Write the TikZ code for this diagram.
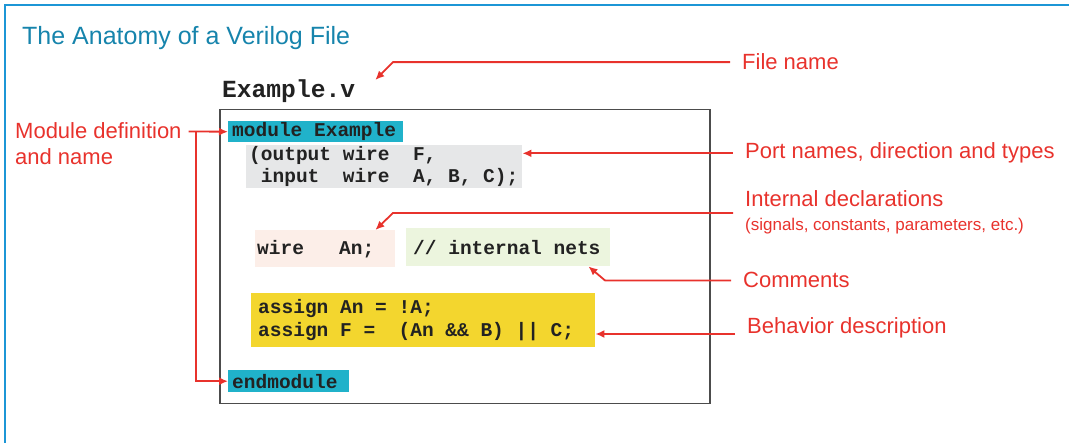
\documentclass[tikz,border=0pt]{standalone}
\usepackage{fontspec}
\setmainfont{Liberation Sans}
\newfontfamily\codefamily{Liberation Mono}
\usepackage{tikz}
\usetikzlibrary{arrows.meta,calc,positioning}
\definecolor{framecol}{RGB}{28,150,214}
\definecolor{titlecol}{RGB}{22,132,172}
\definecolor{arrred}{RGB}{232,50,44}
\definecolor{modcol}{RGB}{32,178,202}
\definecolor{portcol}{RGB}{230,231,232}
\definecolor{wirecol}{RGB}{252,238,232}
\definecolor{comcol}{RGB}{236,245,222}
\definecolor{asgcol}{RGB}{243,214,46}
\definecolor{codetext}{RGB}{34,34,34}
\newcommand{\codefont}{\codefamily\bfseries\fontsize{19.5}{22.5}\selectfont}
\newcommand{\codesp}{\leavevmode\hbox to 0.6em{}}
\newcommand{\lblfont}{\fontsize{22}{26}\selectfont}

\begin{document}
\begin{tikzpicture}[x=1pt, y=-1pt,
    codebox/.style = {anchor=north west, inner xsep=4pt, inner ysep=0pt,
      align=left, font=\codefont, text=codetext},
    lbl/.style = {anchor=base west, inner xsep=12pt, inner ysep=0pt,
      font=\lblfont, text=arrred},
    arr/.style = {draw=arrred, line width=1.8pt, -{Latex[length=9pt,width=8pt]}}]
    \useasboundingbox (0,0) rectangle (1069,443);
    \draw[framecol, line width=2.2pt] (5,443) -- (5,5) -- (1069,5);

    \node[anchor=base west, inner sep=0pt, text=titlecol,
      font=\fontsize{25}{30}\selectfont] (title) at (22,45) {The Anatomy of a Verilog File};

    % the file
    \node[anchor=base west, inner sep=0pt, text=codetext,
      font=\codefamily\bfseries\fontsize{24.6}{28}\selectfont] (fname) at (222,98) {Example.v};
    \node[draw=black!70, line width=1.5pt, anchor=north west,
      minimum width=490, minimum height=294] (filebox) at (219,109) {};

    \node[codebox, fill=modcol, text width=167, minimum height=21] (modbox) at (228,121)
      {module\codesp Example};
    \node[codebox, fill=portcol, text width=270, minimum height=43, inner xsep=3pt] (portbox) at (246,145)
      {(output\codesp wire\codesp\codesp F,\\\codesp input\codesp\codesp wire\codesp\codesp A,\codesp B,\codesp C);};
    \node[codebox, fill=wirecol, text width=136, minimum height=37, inner xsep=2pt] (wirebox) at (255,230)
      {wire\codesp\codesp\codesp An;};
    \node[codebox, fill=comcol, text width=190, minimum height=38, inner xsep=7pt] (combox) at (406,228)
      {//\codesp internal\codesp nets};
    \node[codebox, fill=asgcol, text width=330, minimum height=54, inner xsep=7pt] (asgbox) at (251,293)
      {assign\codesp An\codesp =\codesp !A;\\assign\codesp F\codesp =\codesp\codesp (An\codesp \&\&\codesp B)\codesp ||\codesp C;};
    \node[codebox, fill=modcol, text width=113, minimum height=22] (endbox) at (228,370) {endmodule};

    % labels
    \node[lbl] (lblfile) at (730,70) {File name};
    \node[lbl] (lblport) at (733,159) {Port names, direction and types};
    \node[lbl] (lblint) at (733,207) {Internal declarations};
    \node[lbl, font=\fontsize{17}{20}\selectfont] (lblsub) at (733,231) {(signals, constants, parameters, etc.)};
    \node[lbl] (lblcom) at (731,288) {Comments};
    \node[lbl] (lblbeh) at (735,334) {Behavior description};
    \node[lbl, anchor=north west, inner xsep=7pt, align=left] (lblmod) at (8,122) {Module definition\\and name};

    % arrows
    \draw[arr] (lblfile.west) -- ++(-337,0) -- ([xshift=20pt]fname.north east);
    \draw[arr] (lblport.west) -- (lblport.west -| portbox.east);
    \coordinate (intstart) at ($(lblint.south west)!.5!(lblsub.north west)$);
    \draw[arr] (intstart) -- ++(-340,0) -- ([xshift=-20pt]wirebox.north east);
    \draw[arr] (lblcom.west) -- ++(-126,0) -- ([xshift=-22pt]combox.south east);
    \draw[arr] (lblbeh.base west) -- (lblbeh.base west -| asgbox.east);
    \coordinate (modfork) at ([xshift=7pt]lblmod.north east);
    \draw[arr] ([yshift=-9.5pt]lblmod.north east) -- (modbox.west);
    \draw[arr] (modfork |- modbox.west) |- (endbox.west);
\end{tikzpicture}
\end{document}
